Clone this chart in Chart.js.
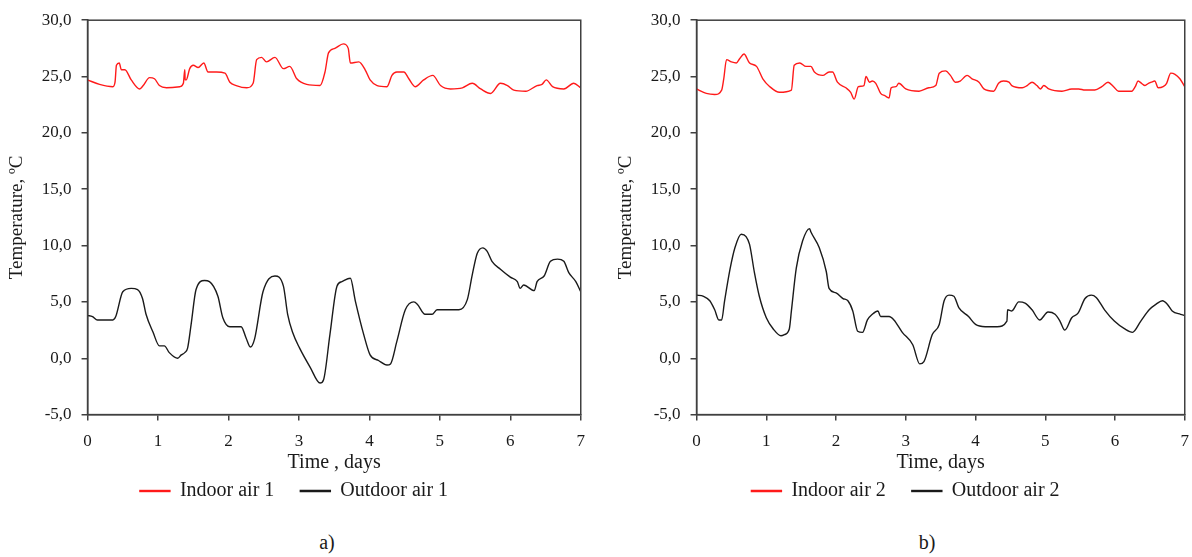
<!DOCTYPE html>
<html>
<head>
<meta charset="utf-8">
<script src="https://cdn.jsdelivr.net/npm/chart.js@4.4.1/dist/chart.umd.min.js"></script>
<style>
body { margin:0; background:#fff; width:1192px; height:557px; overflow:hidden; position:relative; font-family:"Liberation Serif", serif; }
.box { position:absolute; top:0; height:517px; }
#boxA { left:0; width:596px; }
#boxB { left:612px; width:588px; }
.cap { position:absolute; top:531px; width:60px; text-align:center; font-size:20px; color:#1a1a1a; }
</style>
</head>
<body>
<div class="box" id="boxA"><canvas id="chartA"></canvas></div>
<div class="box" id="boxB"><canvas id="chartB"></canvas></div>
<div class="cap" style="left:297px">a)</div>
<div class="cap" style="left:897px">b)</div>
<script>
// time in days, temperature in ºC
const indoor1Days = [0, 0.17, 0.36, 0.39, 0.41, 0.45, 0.48, 0.53, 0.62, 0.74, 0.79, 0.88, 0.95, 1.02, 1.12, 1.31, 1.36, 1.38, 1.385, 1.40, 1.45, 1.50, 1.57, 1.65, 1.71, 1.83, 1.95, 2.02, 2.11, 2.26, 2.35, 2.40, 2.47, 2.54, 2.66, 2.78, 2.87, 2.97, 3.11, 3.30, 3.37, 3.42, 3.51, 3.63, 3.70, 3.73, 3.85, 3.94, 4.01, 4.11, 4.25, 4.32, 4.39, 4.49, 4.56, 4.65, 4.77, 4.90, 5.01, 5.15, 5.32, 5.46, 5.58, 5.72, 5.86, 5.96, 6.05, 6.22, 6.38, 6.45, 6.51, 6.60, 6.76, 6.90, 7.0];
const indoor1Temp = [24.7, 24.3, 24.1, 24.5, 26.0, 26.2, 25.6, 25.6, 24.7, 23.9, 24.2, 24.9, 24.8, 24.2, 24.0, 24.1, 24.4, 25.6, 24.7, 24.7, 25.7, 26.0, 25.8, 26.2, 25.4, 25.4, 25.3, 24.5, 24.2, 24.0, 24.4, 26.5, 26.7, 26.3, 26.7, 25.7, 25.9, 24.8, 24.3, 24.2, 25.4, 27.1, 27.5, 27.9, 27.5, 26.2, 26.3, 25.6, 24.7, 24.2, 24.1, 25.1, 25.4, 25.4, 24.8, 24.1, 24.7, 25.1, 24.2, 23.9, 24.0, 24.4, 23.9, 23.5, 24.4, 24.2, 23.8, 23.7, 24.2, 24.3, 24.7, 24.1, 23.9, 24.4, 24.0];

const outdoor1Days = [0, 0.07, 0.14, 0.36, 0.40, 0.50, 0.62, 0.71, 0.78, 0.83, 0.93, 1.02, 1.09, 1.16, 1.28, 1.33, 1.38, 1.42, 1.47, 1.54, 1.66, 1.73, 1.85, 1.92, 2.02, 2.18, 2.25, 2.31, 2.37, 2.49, 2.66, 2.78, 2.84, 2.91, 3.01, 3.16, 3.30, 3.35, 3.44, 3.54, 3.61, 3.73, 3.80, 3.92, 4.01, 4.13, 4.25, 4.30, 4.39, 4.51, 4.63, 4.68, 4.79, 4.89, 4.96, 5.13, 5.27, 5.39, 5.46, 5.53, 5.61, 5.67, 5.74, 5.86, 6.00, 6.10, 6.14, 6.19, 6.34, 6.38, 6.48, 6.57, 6.67, 6.76, 6.83, 6.93, 7.0];
const outdoor1Temp = [3.8, 3.7, 3.4, 3.4, 3.7, 5.9, 6.2, 6.1, 5.3, 3.9, 2.3, 1.1, 1.1, 0.5, 0.0, 0.3, 0.5, 0.9, 3.0, 6.1, 6.9, 6.8, 5.5, 3.6, 2.8, 2.8, 1.8, 1.0, 1.7, 5.9, 7.3, 6.4, 3.9, 2.3, 0.9, -0.8, -2.2, -1.9, 2.1, 6.4, 6.8, 7.1, 5.1, 2.1, 0.3, -0.2, -0.6, -0.5, 1.5, 4.3, 5.0, 4.8, 3.9, 3.9, 4.3, 4.3, 4.3, 5.2, 7.4, 9.3, 9.8, 9.5, 8.6, 7.9, 7.2, 6.8, 6.2, 6.5, 6.0, 6.8, 7.3, 8.6, 8.8, 8.6, 7.6, 6.8, 5.9];

const indoor2Days = [0, 0.14, 0.26, 0.36, 0.39, 0.43, 0.50, 0.57, 0.62, 0.68, 0.76, 0.86, 0.95, 1.05, 1.19, 1.36, 1.40, 1.48, 1.57, 1.64, 1.69, 1.81, 1.90, 1.95, 2.02, 2.14, 2.21, 2.26, 2.32, 2.40, 2.43, 2.48, 2.52, 2.57, 2.64, 2.70, 2.76, 2.79, 2.86, 2.90, 3.00, 3.19, 3.33, 3.43, 3.48, 3.57, 3.64, 3.71, 3.78, 3.88, 3.95, 4.05, 4.12, 4.26, 4.33, 4.40, 4.48, 4.52, 4.67, 4.74, 4.81, 4.88, 4.93, 4.98, 5.05, 5.24, 5.38, 5.48, 5.57, 5.71, 5.81, 5.90, 5.98, 6.05, 6.24, 6.29, 6.33, 6.38, 6.43, 6.48, 6.52, 6.57, 6.62, 6.69, 6.74, 6.80, 6.86, 6.93, 7.0];
const indoor2Temp = [23.9, 23.5, 23.4, 23.8, 24.8, 26.5, 26.3, 26.2, 26.6, 27.0, 26.2, 25.9, 24.8, 24.1, 23.6, 23.8, 26.0, 26.2, 25.9, 25.9, 25.4, 25.1, 25.4, 25.4, 24.5, 24.0, 23.6, 23.0, 24.1, 24.2, 25.0, 24.5, 24.6, 24.4, 23.5, 23.3, 23.1, 24.0, 24.1, 24.4, 23.9, 23.7, 24.0, 24.2, 25.3, 25.5, 25.1, 24.5, 24.6, 25.1, 24.8, 24.5, 23.9, 23.7, 24.4, 24.6, 24.5, 24.2, 24.0, 24.2, 24.5, 24.2, 23.9, 24.2, 23.9, 23.7, 23.9, 23.9, 23.8, 23.8, 24.1, 24.5, 24.1, 23.7, 23.7, 24.1, 24.6, 24.4, 24.2, 24.4, 24.5, 24.6, 24.0, 24.1, 24.4, 25.3, 25.2, 24.8, 24.1];

const outdoor2Days = [0, 0.10, 0.19, 0.26, 0.32, 0.36, 0.40, 0.48, 0.55, 0.64, 0.71, 0.76, 0.83, 0.90, 1.0, 1.10, 1.21, 1.26, 1.33, 1.36, 1.43, 1.52, 1.62, 1.64, 1.76, 1.86, 1.90, 2.0, 2.10, 2.17, 2.24, 2.31, 2.38, 2.45, 2.52, 2.60, 2.64, 2.76, 2.83, 2.95, 3.10, 3.20, 3.26, 3.38, 3.48, 3.55, 3.62, 3.69, 3.76, 3.90, 4.0, 4.14, 4.31, 4.45, 4.46, 4.52, 4.62, 4.71, 4.81, 4.92, 5.04, 5.14, 5.21, 5.28, 5.38, 5.47, 5.57, 5.66, 5.73, 5.85, 5.99, 6.14, 6.25, 6.37, 6.49, 6.59, 6.68, 6.75, 6.82, 6.94, 7.0];
const outdoor2Temp = [5.6, 5.5, 5.1, 4.3, 3.4, 3.4, 5.0, 7.9, 9.8, 11.0, 10.8, 10.1, 7.6, 5.5, 3.6, 2.6, 2.0, 2.1, 2.6, 4.2, 8.0, 10.4, 11.5, 11.2, 9.8, 7.7, 6.2, 5.8, 5.3, 5.1, 4.2, 2.4, 2.3, 3.4, 3.9, 4.2, 3.7, 3.7, 3.4, 2.3, 1.2, -0.5, -0.3, 2.1, 3.0, 5.1, 5.6, 5.5, 4.5, 3.7, 3.0, 2.8, 2.8, 3.3, 4.3, 4.2, 5.0, 4.9, 4.3, 3.4, 4.1, 3.9, 3.3, 2.5, 3.6, 4.0, 5.3, 5.6, 5.4, 4.3, 3.3, 2.6, 2.3, 3.3, 4.3, 4.8, 5.1, 4.8, 4.2, 3.9, 3.8];

const dayTicks = [0, 1, 2, 3, 4, 5, 6, 7];
const tempTicks = [-5, 0, 5, 10, 15, 20, 25, 30];

const ink = '#1a1a1a';
const axisColor = '#404040';
Chart.defaults.font.family = '"Liberation Serif", "Times New Roman", serif';
Chart.defaults.color = ink;

function toPoints(xs, ys) {
    return xs.map((x, i) => ({ x: x, y: ys[i] }));
}

// box around the plot area, like the original
const frame = {
    id: 'frame',
    afterDatasetsDraw(chart) {
        const a = chart.chartArea;
        const ctx = chart.ctx;
        ctx.save();
        ctx.strokeStyle = axisColor;
        ctx.lineWidth = 1.5;
        ctx.strokeRect(a.left, a.top, a.right - a.left, a.bottom - a.top);
        ctx.restore();
    }
};

function makeChart(canvasId, xTitle, indoorLabel, indoor, outdoorLabel, outdoor, padLeft, padRight) {
    const ctx = document.getElementById(canvasId).getContext('2d');
    return new Chart(ctx, {
        type: 'line',
        data: {
            datasets: [{
                label: indoorLabel,
                data: indoor,
                borderColor: '#ff1a1a',
                backgroundColor: '#ff1a1a',
                borderWidth: 1.4,
                pointRadius: 0,
                cubicInterpolationMode: 'monotone'
            }, {
                label: outdoorLabel,
                data: outdoor,
                borderColor: ink,
                backgroundColor: ink,
                borderWidth: 1.4,
                pointRadius: 0,
                cubicInterpolationMode: 'monotone'
            }]
        },
        options: {
            responsive: true,
            maintainAspectRatio: false,
            animation: false,
            layout: { padding: { left: padLeft, right: padRight, top: 10, bottom: 6 } },
            plugins: {
                tooltip: { enabled: false },
                legend: {
                    position: 'bottom',
                    labels: {
                        boxWidth: 30,
                        boxHeight: 1,
                        padding: 26,
                        font: { size: 20 },
                        color: ink
                    }
                }
            },
            scales: {
                x: {
                    type: 'linear',
                    min: 0,
                    max: 7,
                    afterBuildTicks: (s) => { s.ticks = dayTicks.map(v => ({ value: v })); },
                    grid: { drawOnChartArea: false, color: axisColor, tickLength: 6, lineWidth: 1.5 },
                    border: { color: axisColor, width: 1.5 },
                    ticks: { padding: 11, font: { size: 17 }, color: ink },
                    title: { display: true, text: xTitle, font: { size: 20 }, color: ink, padding: { top: -12, bottom: -20 } }
                },
                y: {
                    min: -5,
                    max: 30,
                    afterBuildTicks: (s) => { s.ticks = tempTicks.map(v => ({ value: v })); },
                    grid: { drawOnChartArea: false, color: axisColor, tickLength: 6, lineWidth: 1.5 },
                    border: { color: axisColor, width: 1.5 },
                    ticks: {
                        padding: 10,
                        font: { size: 17 },
                        color: ink,
                        callback: (v) => v.toFixed(1).replace('.', ',')
                    },
                    title: { display: true, text: 'Temperature, ºC', font: { size: 19 }, color: ink, padding: { top: 0, bottom: 3 } }
                }
            }
        },
        plugins: [frame]
    });
}

makeChart('chartA', 'Time , days',
    'Indoor air 1', toPoints(indoor1Days, indoor1Temp),
    'Outdoor air 1', toPoints(outdoor1Days, outdoor1Temp), 6, 14);
makeChart('chartB', 'Time, days',
    'Indoor air 2', toPoints(indoor2Days, indoor2Temp),
    'Outdoor air 2', toPoints(outdoor2Days, outdoor2Temp), 3, 4);
</script>
</body>
</html>
